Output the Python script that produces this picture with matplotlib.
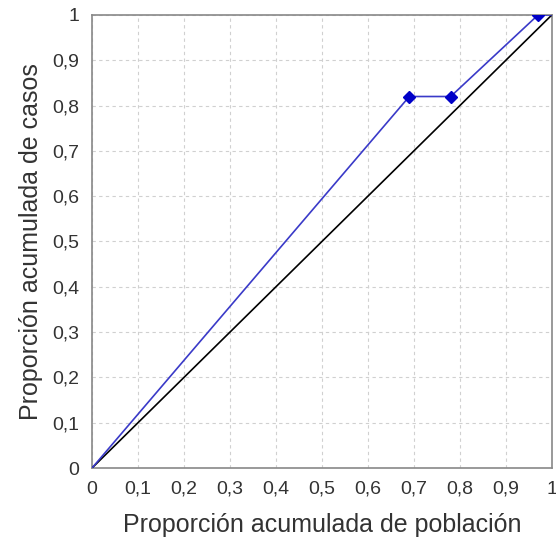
import matplotlib
matplotlib.use("Agg")
import matplotlib.pyplot as plt
from matplotlib.ticker import FuncFormatter, MultipleLocator

# curva de concentracion
x_pob = [0.0, 0.69, 0.78, 0.97, 1.0]
y_casos = [0.0, 0.82, 0.82, 1.0, 1.0]
x_marks = [0.69, 0.78, 0.97]
y_marks = [0.82, 0.82, 1.0]
diag = [0.0, 1.0]

plt.rcParams['font.family'] = ['Liberation Sans', 'DejaVu Sans']

fig = plt.figure(figsize=(5.56, 5.40), dpi=100)
ax = fig.add_axes([0.1655, 0.1333, 0.827, 0.839])

ax.plot(diag, diag, color="black", lw=1.2, zorder=3)
ax.plot(x_pob, y_casos, color="#3a3ac8", lw=1.2, zorder=4)
ax.plot(x_marks, y_marks, "D", color="#0000c8", ms=6.5, zorder=5)

ax.set_xlim(0, 1)
ax.set_ylim(0, 1)
ax.xaxis.set_major_locator(MultipleLocator(0.1))
ax.yaxis.set_major_locator(MultipleLocator(0.1))


def coma(v, pos):
    if abs(v - round(v)) < 1e-9:
        return "%d" % round(v)
    return ("%.1f" % v).replace(".", ",")


ax.xaxis.set_major_formatter(FuncFormatter(coma))
ax.yaxis.set_major_formatter(FuncFormatter(coma))
ax.tick_params(length=0, pad=9, labelsize=14, colors="#333333")
ax.grid(True, color="#d0d0d0", ls=(0, (3, 3)), lw=0.8)
for s in ax.spines.values():
    s.set_color("#888888")
    s.set_linewidth(1.2)

ax.set_xlabel("Proporción acumulada de población", fontsize=18, color="#333333", labelpad=11)
ax.set_ylabel("Proporción acumulada de casos", fontsize=18, color="#333333", labelpad=7)

fig.savefig("out.png", dpi=100)
